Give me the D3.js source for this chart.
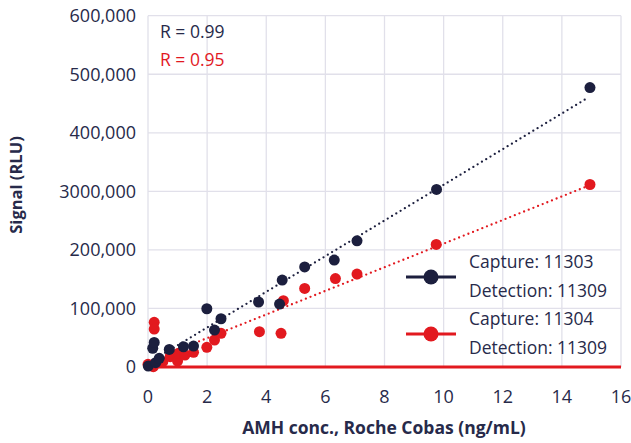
<!DOCTYPE html>
<html>
<head>
<meta charset="utf-8">
<script src="https://cdn.jsdelivr.net/npm/d3@7"></script>
<style>
  body { margin: 0; background: #fff; }
  svg text { font-family: "Open Sans", sans-serif; fill: #272a4a; }
</style>
</head>
<body>
<svg id="chart"></svg>
<script>
// data
const navyX = [0.01, 0.16, 0.21, 0.26, 0.38, 0.72, 1.2, 1.54, 1.99, 2.25, 2.47, 3.74, 4.45, 4.54, 5.3, 6.3, 7.07, 9.76, 14.95];
const navyY = [1700, 32000, 42000, 7300, 14800, 30000, 34600, 35800, 99500, 63100, 82400, 111000, 107500, 148500, 171000, 182600, 215500, 303200, 477300];
const redX = [0, 0.18, 0.21, 0.21, 0.5, 0.75, 1.0, 1.03, 1.25, 1.54, 1.99, 2.25, 2.47, 3.77, 4.5, 4.58, 5.3, 6.34, 7.07, 9.75, 14.95];
const redY = [4500, 500, 76300, 64800, 9000, 17600, 10200, 23300, 20500, 25000, 33600, 46100, 57500, 60300, 57500, 113200, 134200, 151000, 158700, 209400, 311700];

// fitted lines, end points
const trendX = [0, 14.87];
const navyTrend = [6500, 459500];
const redTrend = [8950, 308900];

const xTicks = [0, 2, 4, 6, 8, 10, 12, 14, 16];
const yTicks = [0, 100000, 200000, 300000, 400000, 500000, 600000];
const yTickLabels = ['0', '100,000', '200,000', '3000,000', '400,000', '500,000', '600,000'];

const navy = '#1c1f3e';
const red = '#e2191f';

const width = 631, height = 443;
const svg = d3.select('#chart').attr('width', width).attr('height', height);

const x = d3.scaleLinear().domain([0, 16]).range([148, 621]);
const y = d3.scaleLinear().domain([0, 600000]).range([367, 15.7]);

// grid
svg.append('g').selectAll('line').data(xTicks)
    .enter().append('line')
    .attr('x1', d => x(d)).attr('x2', d => x(d))
    .attr('y1', y(600000)).attr('y2', y(0))
    .attr('stroke', '#e1e0ea').attr('stroke-width', 1.3);
svg.append('g').selectAll('line').data(yTicks)
    .enter().append('line')
    .attr('x1', x(0)).attr('x2', x(16))
    .attr('y1', d => y(d)).attr('y2', d => y(d))
    .attr('stroke', '#e1e0ea').attr('stroke-width', 1.3);

// tick labels
svg.append('g').selectAll('text').data(yTicks)
    .enter().append('text')
    .attr('x', 136).attr('y', d => y(d))
    .attr('dy', '0.35em')
    .attr('text-anchor', 'end')
    .style('font-size', '18px')
    .text((d, i) => yTickLabels[i]);
svg.append('g').selectAll('text').data(xTicks)
    .enter().append('text')
    .attr('x', d => x(d)).attr('y', 397)
    .attr('dy', '0.35em')
    .attr('text-anchor', 'middle')
    .style('font-size', '18px')
    .text(d => d);

// red base line
svg.append('line')
    .attr('x1', x(0)).attr('x2', x(16))
    .attr('y1', y(0)).attr('y2', y(0))
    .attr('stroke', red).attr('stroke-width', 3);

// trend lines
const line = d3.line().x(d => x(d[0])).y(d => y(d[1]));
[[redTrend, red], [navyTrend, navy]].forEach(([t, c]) => {
    svg.append('path')
        .attr('d', line(d3.zip(trendX, t)))
        .attr('fill', 'none')
        .attr('stroke', c)
        .attr('stroke-width', 2.3)
        .attr('stroke-linecap', 'round')
        .attr('stroke-dasharray', '0 5');
});

// points
svg.append('g').selectAll('circle').data(d3.zip(redX, redY))
    .enter().append('circle')
    .attr('cx', d => x(d[0])).attr('cy', d => y(d[1]))
    .attr('r', 5.5).attr('fill', red);
svg.append('g').selectAll('circle').data(d3.zip(navyX, navyY))
    .enter().append('circle')
    .attr('cx', d => x(d[0])).attr('cy', d => y(d[1]))
    .attr('r', 5.5).attr('fill', navy);

// R values
svg.append('text').attr('x', 160).attr('y', 38).style('font-size', '17.5px').text('R = 0.99');
svg.append('text').attr('x', 160).attr('y', 66).style('font-size', '17.5px').style('fill', red).text('R = 0.95');

// legend
const legend = [
    {c: navy, y: 277, lines: ['Capture: 11303', 'Detection: 11309']},
    {c: red, y: 334, lines: ['Capture: 11304', 'Detection: 11309']}
];
legend.forEach(l => {
    svg.append('line').attr('x1', 406).attr('x2', 456)
        .attr('y1', l.y).attr('y2', l.y)
        .attr('stroke', l.c).attr('stroke-width', 3);
    svg.append('circle').attr('cx', 431).attr('cy', l.y).attr('r', 7.5).attr('fill', l.c);
    l.lines.forEach((t, i) => {
        svg.append('text').attr('x', 469).attr('y', l.y - 15 + i * 29)
            .attr('dy', '0.35em')
            .style('font-size', '17.5px')
            .text(t);
    });
});

// axis titles
svg.append('text')
    .attr('x', 384).attr('y', 428).attr('dy', '0.35em')
    .attr('text-anchor', 'middle')
    .style('font-size', '17.5px').style('font-weight', 'bold')
    .text('AMH conc., Roche Cobas (ng/mL)');
svg.append('text')
    .attr('transform', 'translate(16,185) rotate(-90)')
    .attr('dy', '0.35em')
    .attr('text-anchor', 'middle')
    .style('font-size', '16.5px').style('font-weight', 'bold')
    .text('Signal (RLU)');
</script>
</body>
</html>
